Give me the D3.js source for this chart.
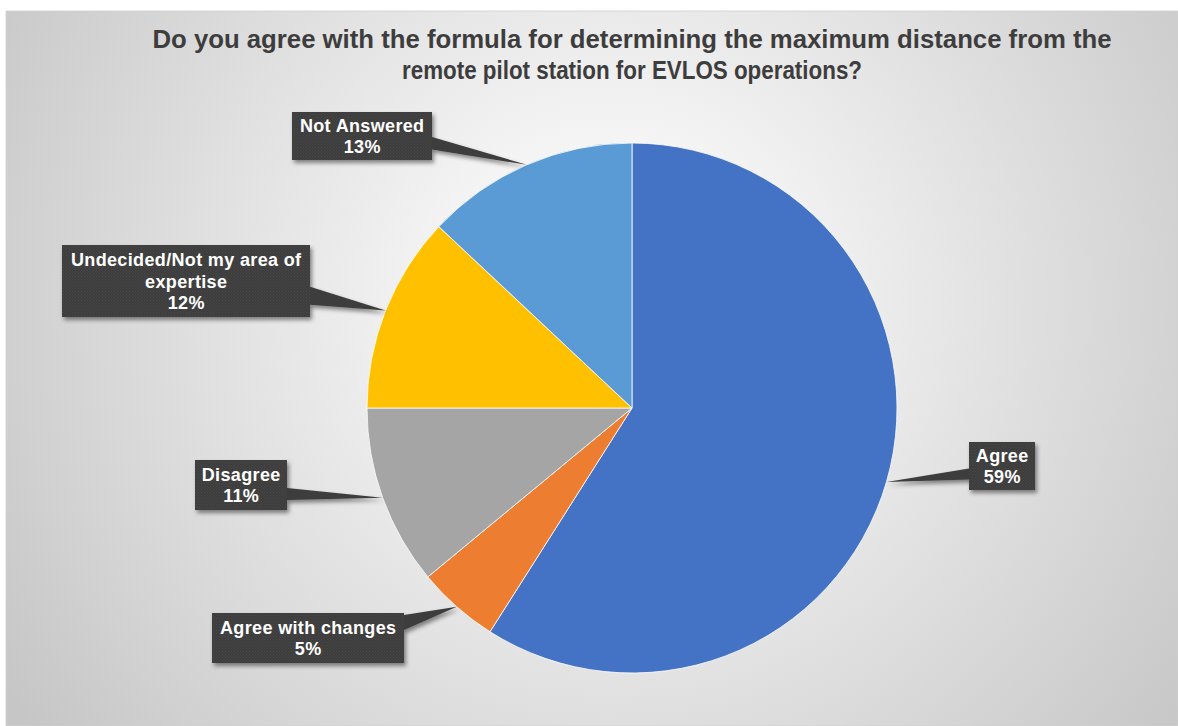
<!DOCTYPE html>
<html>
<head>
<meta charset="utf-8">
<script src="https://cdn.jsdelivr.net/npm/d3@7"></script>
<style>
  html, body { margin: 0; padding: 0; background: #ffffff; }
  svg { display: block; }
</style>
</head>
<body>
<svg id="chart" width="1178" height="726"></svg>
<script>
// Survey answers, clockwise from 12 o'clock
const categories = ["Agree", "Agree with changes", "Disagree", "Undecided/Not my area of expertise", "Not Answered"];
const values = [59, 5, 11, 12, 13];
const colors = ["#4472C4", "#ED7D31", "#A5A5A5", "#FFC000", "#5B9BD5"];
// Wrapped label text for each category
const labelLines = [["Agree"], ["Agree with changes"], ["Disagree"], ["Undecided/Not my area of", "expertise"], ["Not Answered"]];
const titleLines = ["Do you agree with the formula for determining the maximum distance from the",
                    "remote pilot station for EVLOS operations?"];

const svg = d3.select("#chart");
const W = 1178, H = 726;

// Background panel with a soft radial gradient
const defs = svg.append("defs");
const grad = defs.append("radialGradient")
  .attr("id", "bg").attr("gradientUnits", "userSpaceOnUse")
  .attr("cx", 610).attr("cy", 300).attr("r", 720);
grad.append("stop").attr("offset", 0).attr("stop-color", "#ffffff");
grad.append("stop").attr("offset", 0.25).attr("stop-color", "#f3f3f3");
grad.append("stop").attr("offset", 1).attr("stop-color", "#c6c6c6");

const shadow = defs.append("filter").attr("id", "shadow")
  .attr("x", "-20%").attr("y", "-20%").attr("width", "140%").attr("height", "150%");
shadow.append("feDropShadow").attr("dx", 2).attr("dy", 3).attr("stdDeviation", 2)
  .attr("flood-color", "#000").attr("flood-opacity", 0.45);

const tex = defs.append("pattern").attr("id", "tex")
  .attr("width", 3).attr("height", 3).attr("patternUnits", "userSpaceOnUse");
tex.append("rect").attr("width", 3).attr("height", 3).attr("fill", "#3d3d3d");
tex.append("rect").attr("width", 1).attr("height", 1).attr("fill", "#4a4a4a");
tex.append("rect").attr("x", 1.5).attr("y", 1.5).attr("width", 1).attr("height", 1).attr("fill", "#474747");

svg.append("rect").attr("x", 6).attr("y", 11).attr("width", W - 6).attr("height", H - 11)
  .attr("fill", "url(#bg)").attr("stroke", "#d0d0d0").attr("stroke-width", 0.8);

// Title
const title = svg.append("g").attr("font-family", "'Liberation Sans', Arial, sans-serif")
  .attr("font-weight", "bold").attr("font-size", 25).attr("fill", "#3d3d3d")
  .attr("text-anchor", "middle");
const titleWidths = [959, 460];
titleLines.forEach((t, i) => {
  title.append("text").attr("x", 632).attr("y", 48 + i * 31)
    .attr("textLength", titleWidths[i]).attr("lengthAdjust", "spacingAndGlyphs")
    .text(t);
});

// Pie
const cx = 632, cy = 408, R = 265;
const pie = d3.pie().sort(null).value(d => d.value);
const arcs = pie(categories.map((c, i) => ({ name: c, value: values[i], color: colors[i], lines: labelLines[i] })));
const arc = d3.arc().innerRadius(0).outerRadius(R);
const edge = d3.arc().innerRadius(R).outerRadius(R);

const g = svg.append("g").attr("transform", `translate(${cx},${cy})`);
g.selectAll("path.slice").data(arcs).join("path")
  .attr("class", "slice")
  .attr("d", arc)
  .attr("fill", d => d.data.color)
  .attr("stroke", "#ffffff").attr("stroke-width", 0.8);

// Callout boxes: position, and which side the pointer leaves from
const boxes = [
  { x: 969, y: 442, w: 66,  h: 48, side: "left",  f: [0.55, 0.78] },
  { x: 212, y: 613, w: 192, h: 50, side: "right", f: [0.04, 0.34] },
  { x: 195, y: 460, w: 92,  h: 50, side: "right", f: [0.56, 0.80] },
  { x: 62,  y: 245, w: 248, h: 72, side: "right", f: [0.58, 0.83] },
  { x: 292, y: 112, w: 140, h: 48, side: "right", f: [0.52, 0.78] }
];

const labels = svg.append("g");
arcs.forEach((d, i) => {
  const b = boxes[i];
  const [tx, ty] = edge.centroid(d);
  const tip = [cx + tx, cy + ty];
  const ex = b.side === "left" ? b.x : b.x + b.w;
  const y1 = b.y + b.h * b.f[0], y2 = b.y + b.h * b.f[1];
  const lg = labels.append("g").attr("filter", "url(#shadow)");
  lg.append("path")
    .attr("d", d3.line()([[ex, y1], tip, [ex, y2]]) + "Z")
    .attr("fill", "#3d3d3d");
  lg.append("rect").attr("x", b.x).attr("y", b.y).attr("width", b.w).attr("height", b.h)
    .attr("fill", "url(#tex)");

  const lines = d.data.lines.concat([d.data.value + "%"]);
  const mid = b.y + b.h / 2;
  const lh = 21.5;
  const txt = labels.append("g")
    .attr("font-family", "'Liberation Sans', Arial, sans-serif")
    .attr("font-weight", "bold").attr("font-size", 18)
    .attr("letter-spacing", "0.35px")
    .attr("fill", "#ffffff").attr("text-anchor", "middle");
  lines.forEach((t, k) => {
    txt.append("text")
      .attr("x", b.x + b.w / 2 + 0.2)
      .attr("y", mid + (k - (lines.length - 1) / 2) * lh + 6.5)
      .text(t);
  });
});
</script>
</body>
</html>
